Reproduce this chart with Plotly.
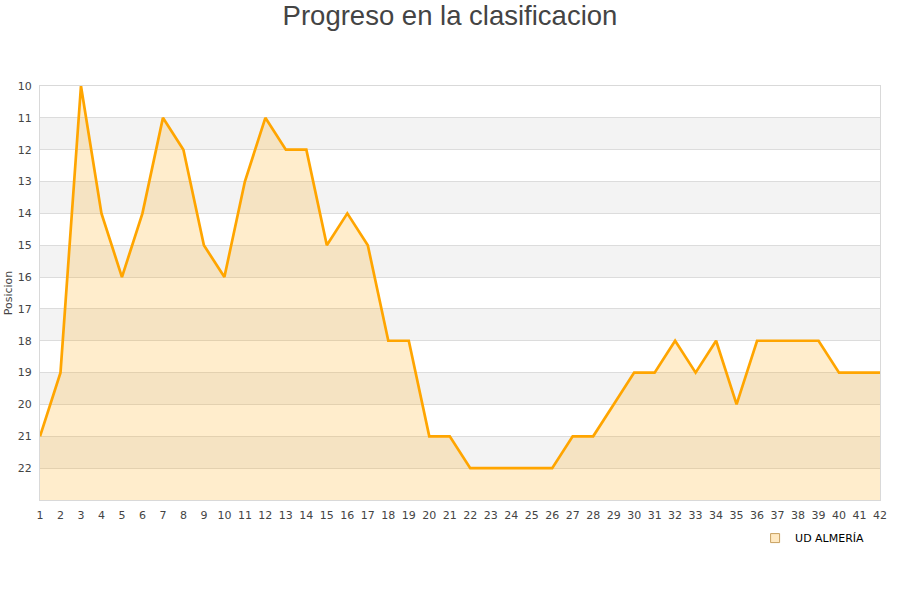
import plotly.graph_objects as go

jornadas = list(range(1, 43))
posiciones = [21, 19, 10, 14, 16, 14, 11, 12, 15, 16, 13, 11, 12, 12, 15, 14, 15, 18, 18, 21,
              21, 22, 22, 22, 22, 22, 21, 21, 20, 19, 19, 18, 19, 18, 20, 18, 18, 18, 18, 19,
              19, 19]
equipo = "UD ALMERÍA"
y_ticks = list(range(10, 23))
y_bottom = 23
y_top = 10
bandas = [11, 13, 15, 17, 19, 21]

fig = go.Figure()
fig.add_trace(go.Scatter(x=jornadas, y=[y_bottom] * len(jornadas), mode="lines",
                         line=dict(width=0), showlegend=False, hoverinfo="skip"))
fig.add_trace(go.Scatter(x=jornadas, y=posiciones, mode="lines", fill="tonexty",
                         fillcolor="rgba(255,165,0,0.2)",
                         line=dict(color="#FFA500", width=2.7), showlegend=False, name=equipo))
fig.add_trace(go.Scatter(x=[None], y=[None], mode="markers", name=equipo,
                         marker=dict(symbol="square", size=9, color="#ffe9c2",
                                     line=dict(color="#c8a060", width=1))))

shapes = []
for b in bandas:
    shapes.append(dict(type="rect", xref="paper", yref="y", x0=0, x1=1, y0=b, y1=b + 1,
                       fillcolor="#f3f3f3", line=dict(width=0), layer="below"))

fig.update_layout(
    width=900, height=600,
    margin=dict(l=40, r=20, t=86, b=100, autoexpand=False),
    paper_bgcolor="white", plot_bgcolor="white",
    title=dict(text="Progreso en la clasificacion", x=0.5, xanchor="center", y=0.974, yanchor="middle",
               font=dict(family="Liberation Sans, Arial, sans-serif", size=27.5, color="#444444")),
    font=dict(family="DejaVu Sans, sans-serif", size=11, color="#444444"),
    shapes=shapes,
    showlegend=True,
    legend=dict(x=0.987, xanchor="right", y=-0.092, yanchor="middle", bgcolor="rgba(0,0,0,0)",
                font=dict(size=11, color="#000000"), itemwidth=30),
)
fig.update_xaxes(range=[1, 42], tickmode="array", tickvals=jornadas, showgrid=False,
                 zeroline=False, showline=True, mirror=True, linecolor="#d9d9d9", linewidth=1,
                 ticks="", automargin=False, ticklabelstandoff=5,
                 tickfont=dict(size=11, color="#444444"))
fig.update_yaxes(range=[y_bottom, y_top], tickmode="array", tickvals=y_ticks, showgrid=True,
                 gridcolor="#dcdcdc", gridwidth=1, zeroline=False, showline=True, mirror=True,
                 linecolor="#d9d9d9", linewidth=1, ticks="", automargin=False, ticklabelstandoff=5,
                 title=dict(text="Posicion", font=dict(size=11, color="#444444"), standoff=2),
                 tickfont=dict(size=11, color="#444444"))

fig.write_html("out.html", config={"displayModeBar": False},
               post_script="document.body.style.margin='0px';")
